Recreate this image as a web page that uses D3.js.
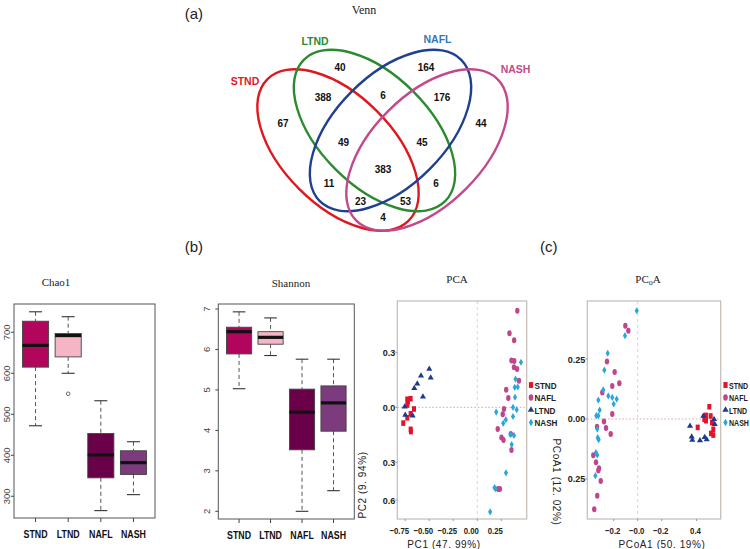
<!DOCTYPE html>
<html><head><meta charset="utf-8">
<script src="https://cdn.jsdelivr.net/npm/d3@7/dist/d3.min.js"></script>
<style>body{margin:0;background:#fff}svg{display:block}</style>
</head><body>
<svg id="c" width="750" height="549"></svg>
<script>
// ================= DATA =================
const groups = ["STND","LTND","NAFL","NASH"];

// Venn
const vennNames = ["STND","LTND","NAFL","NASH"];
const vennRegions = ["STND","LTND","NAFL","NASH","STND&LTND","LTND&NAFL","NAFL&NASH","STND&NAFL","LTND&NASH","STND&NASH",
  "STND&LTND&NAFL","LTND&NAFL&NASH","STND&NAFL&NASH","STND&LTND&NASH","ALL"];
const vennCounts = [67,40,164,44,388,6,176,11,6,4,49,45,23,53,383];

// Chao1 boxplot stats
const chaoLow    = [472, 600, 265, 304];
const chaoQ1     = [615, 640, 345, 353];
const chaoMedian = [668, 692, 401, 382];
const chaoQ3     = [727, 697, 453, 411];
const chaoHigh   = [750, 738, 533, 433];
const chaoOutliers = [[], [550], [], []];
const chaoTicks = [300, 400, 500, 600, 700];

// Shannon boxplot stats
const shanLow    = [5.03, 5.85, 2.00, 2.51];
const shanQ1     = [5.89, 6.13, 3.52, 3.98];
const shanMedian = [6.44, 6.30, 4.45, 4.68];
const shanQ3     = [6.55, 6.44, 5.02, 5.10];
const shanHigh   = [6.93, 6.78, 5.76, 5.76];
const shanOutliers = [[], [], [], []];
const shanTicks = [2, 3, 4, 5, 6, 7];

// PCA scores [PC1, PC2]
const pcaSTND = [[-0.729,0.044],[-0.694,0.047],[-0.722,0.031],[-0.729,0.013],[-0.659,-0.009],[-0.694,-0.035],[-0.729,-0.057],[-0.771,-0.086],[-0.694,-0.120],[-0.691,-0.132]];
const pcaLTND = [[-0.500,0.209],[-0.485,0.161],[-0.586,0.172],[-0.625,0.129],[-0.656,0.104],[-0.566,0.058],[-0.756,0.003],[-0.750,-0.042],[-0.673,-0.046]];
const pcaNAFL = [[0.417,0.527],[0.335,0.404],[0.384,0.366],[0.356,0.256],[0.385,0.253],[0.382,0.218],[0.414,0.209],[0.434,0.145],[0.301,0.096],[0.323,0.051],[0.278,-0.009],[0.265,-0.037],[0.213,-0.118],[0.252,-0.164],[0.273,-0.178],[0.349,-0.146],[0.356,-0.233],[0.216,-0.446],[0.236,-0.446]];
const pcaNASH = [[0.455,0.246],[0.398,0.154],[0.421,0.111],[0.390,0.109],[0.393,0.055],[0.372,0.000],[0.410,-0.013],[0.197,-0.026],[0.372,-0.050],[0.297,-0.067],[0.270,-0.087],[0.346,-0.148],[0.382,-0.153],[0.358,-0.203],[0.299,-0.357],[0.179,-0.438],[0.190,-0.444],[0.134,-0.570]];
const pcaXTicks = [-0.75,-0.5,-0.25,0,0.25];
const pcaXTickText = ["\u22120.75","\u22120.50","\u22120.25","0.00","0.25"];
const pcaYTicks = [0.3, 0.0, -0.3, -0.506];
const pcaYTickText = ["0.3","0.0","0.3","0.6"];

// PCoA scores [PCoA1, PCoA2]
const pcoaSTND = [[0.597,0.051],[0.569,0.015],[0.608,0.0125],[0.555,-0.001],[0.569,-0.007],[0.619,-0.015],[0.630,-0.043],[0.611,-0.060],[0.630,-0.067],[0.500,-0.035]];
const pcoaLTND = [[0.450,-0.074],[0.455,-0.0875],[0.519,-0.090],[0.558,-0.076],[0.575,-0.085],[0.636,-0.001],[0.642,-0.022],[0.547,0.0125],[0.436,-0.029]];
const pcoaNAFL = [[-0.103,0.389],[-0.078,0.368],[-0.256,0.240],[-0.192,0.196],[-0.153,0.149],[-0.212,0.1375],[-0.295,0.110],[-0.212,0.021],[-0.281,-0.010],[-0.264,-0.0375],[-0.339,-0.032],[-0.225,-0.0625],[-0.370,-0.151],[-0.3475,-0.180],[-0.3225,-0.205],[-0.328,-0.215],[-0.308,-0.258],[-0.337,-0.320],[-0.362,-0.376]];
const pcoaNASH = [[-0.008,0.451],[-0.106,0.347],[-0.250,0.274],[-0.278,0.204],[-0.287,0.121],[-0.245,0.096],[-0.212,0.090],[-0.175,0.083],[-0.200,0.0625],[-0.328,0.079],[-0.317,0.0375],[-0.345,0.014],[-0.328,0.014],[-0.337,-0.042],[-0.333,-0.078],[-0.325,-0.086],[-0.348,-0.140],[-0.337,-0.150],[-0.353,-0.236]];
const pcoaXTicks = [-0.2, 0, 0.2, 0.49];
const pcoaXTickText = ["\u22120.2","\u22120.0","\u22120.2","0.4"];
const pcoaYTicks = [0.25, 0, -0.25];
const pcoaYTickText = ["0.25","0.00","0.25"];
const legendOrder = ["STND","NAFL","LTND","NASH"];

// ================= LAYOUT / STYLE =================
const sans = "'Liberation Sans', Arial, sans-serif";
const serif = "'Liberation Serif', 'Times New Roman', serif";
const boxColors = {STND:"#b1065b", LTND:"#f6b5c5", NAFL:"#6a0048", NASH:"#7c3b7d"};
const vennColors = ["#e0171f","#2c8a30","#1f3f93","#c4488c"];
const vennLabelColors = ["#e0171f","#2c8a30","#3578b4","#c4488c"];
const ptColors = {STND:"#e5122c", NAFL:"#c0468c", LTND:"#1d3b8c", NASH:"#2aa6de"};

const svg = d3.select("#c");

function txt(g, x, y, s, o = {}) {
  const t = g.append("text")
    .attr("transform", `translate(${x},${y}) rotate(${o.rotate||0}) scale(${o.sx||1},1)`)
    .attr("text-anchor", o.anchor || "middle")
    .attr("font-family", o.family || sans)
    .attr("font-size", o.size || 10)
    .attr("font-weight", o.weight || "normal")
    .attr("fill", o.fill || "#000")
    .text(s);
  if (o.ls) t.attr("letter-spacing", o.ls);
  return t;
}

// panel letters
txt(svg, 203, 19, "(a)", {size:15, anchor:"end", fill:"#222"});
txt(svg, 203, 252, "(b)", {size:15, anchor:"end", fill:"#222"});
txt(svg, 540, 252, "(c)", {size:15, anchor:"start", fill:"#222"});

// ================= VENN =================
{
  const g = svg.append("g");
  const vx = d3.scaleLinear().domain([-1,1]).range([282.5,482.5]);
  const vy = d3.scaleLinear().domain([-1,1]).range([40,240]);
  const k = 100; // px per unit
  const ell = [
    {cx:-0.445, cy:0.10, rot:45},
    {cx:-0.08, cy:-0.095, rot:45},
    {cx:0.08, cy:-0.095, rot:-45},
    {cx:0.445, cy:0.10, rot:-45}
  ];
  const ra = 1.0, rb = 0.55;
  g.selectAll("ellipse").data(ell).join("ellipse")
    .attr("cx", d => vx(d.cx)).attr("cy", d => vy(d.cy))
    .attr("rx", ra*k).attr("ry", rb*k)
    .attr("transform", d => `rotate(${d.rot},${vx(d.cx)},${vy(d.cy)})`)
    .attr("fill","none").attr("stroke-width",2.4)
    .attr("stroke",(d,i)=>vennColors[i]);
  const namePos = [[-1.375,-0.55],[-0.675,-0.95],[0.55,-0.973],[1.33,-0.667]];
  vennNames.forEach((n,i)=> txt(g, vx(namePos[i][0]), vy(namePos[i][1]), n, {size:10.5, weight:"bold", fill:vennLabelColors[i]}));
  const regionPos = [[-0.995,-0.17],[-0.425,-0.73],[0.435,-0.73],[0.985,-0.17],[-0.595,-0.43],[0.005,-0.45],[0.595,-0.43],
    [-0.535,0.43],[0.535,0.43],[0.005,0.77],[-0.39,0.02],[0.395,0.02],[-0.22,0.61],[0.23,0.61],[0.005,0.29]];
  vennCounts.forEach((c,i)=> txt(g, vx(regionPos[i][0]), vy(regionPos[i][1])+3.5, c, {size:10, weight:"bold", fill:"#111"}));
  txt(g, 364, 14, "Venn", {size:12, family:serif, fill:"#222"});
}

// ================= BOXPLOTS =================
function boxplot(o) {
  const g = svg.append("g");
  const x = d3.scaleLinear().domain([0.34,4.66]).range([o.left,o.right]);
  const y = d3.scaleLinear().domain(o.domain).range([o.bottom,o.top]);
  const bw = (x(1.4)-x(1));
  groups.forEach((grp,i)=>{
    const cx = x(i+1);
    g.append("line").attr("x1",cx).attr("x2",cx).attr("y1",y(o.high[i])).attr("y2",y(o.q3[i]))
      .attr("stroke","#555").attr("stroke-dasharray","4,3");
    g.append("line").attr("x1",cx).attr("x2",cx).attr("y1",y(o.q1[i])).attr("y2",y(o.low[i]))
      .attr("stroke","#555").attr("stroke-dasharray","4,3");
    [o.high[i], o.low[i]].forEach(v=> g.append("line").attr("x1",cx-bw/2).attr("x2",cx+bw/2)
      .attr("y1",y(v)).attr("y2",y(v)).attr("stroke","#333").attr("stroke-width",1.1));
    g.append("rect").attr("x",cx-bw).attr("width",2*bw).attr("y",y(o.q3[i])).attr("height",y(o.q1[i])-y(o.q3[i]))
      .attr("fill",boxColors[grp]).attr("stroke","#444").attr("stroke-width",0.9);
    g.append("line").attr("x1",cx-bw).attr("x2",cx+bw).attr("y1",y(o.median[i])).attr("y2",y(o.median[i]))
      .attr("stroke","#111").attr("stroke-width",3.2);
    o.out[i].forEach(v=> g.append("circle").attr("cx",cx).attr("cy",y(v)).attr("r",1.8)
      .attr("fill","none").attr("stroke","#444").attr("stroke-width",0.8));
    g.append("line").attr("x1",cx).attr("x2",cx).attr("y1",o.bottom).attr("y2",o.bottom+4).attr("stroke","#444");
    txt(g, cx, o.bottom+20, grp, {size:11, weight:"bold", sx:0.8, fill:"#111"});
  });
  o.ticks.forEach(t=>{
    g.append("line").attr("x1",o.left-3).attr("x2",o.left).attr("y1",y(t)).attr("y2",y(t)).attr("stroke","#444");
    txt(g, o.labelX, y(t), t, {size:9.5, rotate:-90, fill:"#444"});
  });
  g.append("rect").attr("x",o.left).attr("y",o.top).attr("width",o.right-o.left).attr("height",o.bottom-o.top)
    .attr("fill","none").attr("stroke","#555").attr("stroke-width",1);
  txt(g, o.titleX, o.titleY, o.title, {size:11, family:serif, fill:"#222"});
}
boxplot({left:14,right:155,top:304,bottom:518,domain:[247,769],ticks:chaoTicks,labelX:10,
  low:chaoLow,q1:chaoQ1,median:chaoMedian,q3:chaoQ3,high:chaoHigh,out:chaoOutliers,title:"Chao1",titleX:56,titleY:286});
boxplot({left:218.3,right:354.3,top:304,bottom:519,domain:[1.81,7.124],ticks:shanTicks,labelX:210,
  low:shanLow,q1:shanQ1,median:shanMedian,q3:shanQ3,high:shanHigh,out:shanOutliers,title:"Shannon",titleX:291,titleY:286.5});

// ================= SCATTER PANELS =================
function marker(g, grp, px, py, scale=1) {
  const c = ptColors[grp];
  if (grp==="STND") g.append("rect").attr("x",px-2*scale).attr("y",py-2.8*scale).attr("width",4*scale).attr("height",5.6*scale).attr("fill",c);
  else if (grp==="NAFL") g.append("ellipse").attr("cx",px).attr("cy",py).attr("rx",2.2*scale).attr("ry",3*scale).attr("fill",c);
  else if (grp==="LTND") g.append("path").attr("d",d3.symbol(d3.symbolTriangle,16*scale*scale)()).attr("transform",`translate(${px},${py})`).attr("fill",c);
  else g.append("path").attr("d",d3.symbol(d3.symbolDiamond,15*scale*scale)()).attr("transform",`translate(${px},${py})`).attr("fill",c);
}
function scatter(o) {
  const g = svg.append("g");
  const x = d3.scaleLinear().domain(o.xd).range([o.left,o.right]);
  const y = d3.scaleLinear().domain(o.yd).range([o.bottom,o.top]);
  g.append("line").attr("x1",x(0)).attr("x2",x(0)).attr("y1",o.top).attr("y2",o.bottom)
    .attr("stroke","#d6d6d6").attr("stroke-dasharray","3,3");
  g.append("line").attr("x1",o.left).attr("x2",o.right).attr("y1",y(0)).attr("y2",y(0))
    .attr("stroke","#f09a9a").attr("stroke-dasharray","1.5,2");
  g.append("rect").attr("x",o.left).attr("y",o.top).attr("width",o.right-o.left).attr("height",o.bottom-o.top)
    .attr("fill","none").attr("stroke","#c4bbb3").attr("stroke-width",1.2);
  o.series.forEach(([grp,pts])=> pts.forEach(p=> marker(g, grp, x(p[0]), y(p[1]))));
  o.xTicks.forEach((t,i)=>{
    g.append("line").attr("x1",x(t)).attr("x2",x(t)).attr("y1",o.bottom).attr("y2",o.bottom+2).attr("stroke","#999");
    txt(g, x(t)+o.xdx, o.bottom+15, o.xText[i], {size:9.5, weight:"bold", sx:0.82, fill:"#222"});
  });
  o.yTicks.forEach((t,i)=>{
    g.append("line").attr("x1",o.left-2).attr("x2",o.left).attr("y1",y(t)).attr("y2",y(t)).attr("stroke","#999");
    txt(g, o.left-2, y(t)+3.5, o.yText[i], {size:9.5, weight:"bold", anchor:"end", sx:0.95, fill:"#222"});
  });
  legendOrder.forEach((grp,i)=>{
    const ly = 385 + i*12.5;
    marker(g, grp, o.legX, ly, 1.05);
    txt(g, o.legX+3.5, ly+3.5, grp, {size:9, weight:"bold", anchor:"start", sx:o.legSx, fill:"#222"});
  });
  txt(g, o.xLabX, 548, o.xLab, {size:10, fill:"#222", ls:0.6});
  if (o.title) txt(g, o.titleX, o.titleY, o.title, {size:11, family:serif, fill:"#222"});
  return g;
}
const gPCA = scatter({left:397.3,right:526.7,top:301,bottom:519,xd:[-0.833,0.5146],yd:[-0.609,0.58],
  series:[["STND",pcaSTND],["LTND",pcaLTND],["NAFL",pcaNAFL],["NASH",pcaNASH]],
  xTicks:pcaXTicks,xText:pcaXTickText,xdx:-6,yTicks:pcaYTicks,yText:pcaYTickText,
  legX:531,legSx:0.9,xLab:"PC1 (47. 99%)",xLabX:444,title:"PCA",titleX:457,titleY:283});
txt(gPCA, 366, 485, "PC2 (9. 94%)", {size:10, rotate:-90, fill:"#222", ls:0.6});
txt(gPCA, 553, 482, "PCoA1 (12. 02%)", {size:10, rotate:90, fill:"#222", ls:0.6});

const gPCoA = scatter({left:587.3,right:720.7,top:301,bottom:519,xd:[-0.42,0.6917],yd:[-0.4167,0.4917],
  series:[["NAFL",pcoaNAFL],["NASH",pcoaNASH],["STND",pcoaSTND],["LTND",pcoaLTND]],
  xTicks:pcoaXTicks,xText:pcoaXTickText,xdx:-1,yTicks:pcoaYTicks,yText:pcoaYTickText,
  legX:725.5,legSx:0.78,xLab:"PCoA1 (50. 19%)",xLabX:662,title:"",titleX:648,titleY:283});
// PCoA title with subscript o
gPCoA.append("text").attr("x",648).attr("y",283).attr("text-anchor","middle")
  .attr("font-family",serif).attr("font-size",11).attr("fill","#222")
  .call(t=>{ t.append("tspan").text("PC"); t.append("tspan").attr("font-size",8).attr("dy",2).text("o");
             t.append("tspan").attr("dy",-2).text("A"); });
</script>
</body></html>
